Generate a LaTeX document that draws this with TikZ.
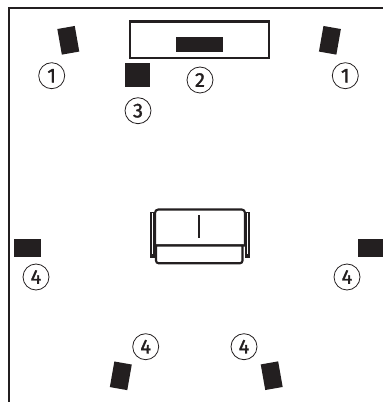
\documentclass[tikz,border=0pt]{standalone}
\usepackage{fontspec}
\setmainfont[RawFeature={embolden=1.6}]{Fira Sans}
\definecolor{cInk}{RGB}{35,31,32}
\tikzset{
	spk/.style    ={rectangle, fill=cInk, inner sep=0pt, minimum width=17.7*0.75pt, minimum height=26*0.75pt},
	spkside/.style={rectangle, fill=cInk, inner sep=0pt, minimum width=26.5*0.75pt, minimum height=18.5*0.75pt},
	num/.style    ={circle, draw=cInk, line width=0.6pt, minimum size=26*0.75pt, inner sep=0pt, text=cInk, font=\fontsize{15}{15}\selectfont},
	room/.style   ={draw=cInk, line width=1.9pt},
	sofa/.style   ={draw=cInk, line width=1.6pt},
}
\begin{document}
\begin{tikzpicture}[x=0.75pt, y=-0.75pt]
	\useasboundingbox (0,0) rectangle (383,402);
	% walls
	\coordinate (wallB) at (9,402);
	\coordinate (wallC) at (9,8);
	\coordinate (wallR) at (383,8);
	\draw[room, line join=miter] (wallB) -- (wallC) -- (wallR);
	% screen, centre speaker and subwoofer
	\draw[draw=cInk, line width=1.6pt] (130,21.5) rectangle (268.7,58);
	\node[rectangle, fill=cInk, inner sep=0pt, minimum width=47.6*0.75pt, minimum height=15*0.75pt] (centre) at (199.5,44.5) {};
	\node[rectangle, fill=cInk, inner sep=0pt, minimum width=24.7*0.75pt, minimum height=24.6*0.75pt] (sub) at (137.7,75) {};
	% angled speakers
	\foreach \nm/\px/\py/\ang in {frontL/68.3/40.3/10, frontR/329.9/40.3/-10, rearL/120.8/375.8/-10, rearR/271.7/375.7/10}
		\node[spk, rotate=\ang] (\nm) at (\px,\py) {};
	% side speakers
	\node[spkside] (sideL) at (27.6,247.8) {};
	\node[spkside, minimum width=25.3*0.75pt] (sideR) at (370.3,247.8) {};
	% sofa
	\fill[cInk] (150,211.7) rectangle (155,258);
	\fill[cInk] (245,211.7) rectangle (249.5,258);
	\fill[white] (151.9,213.5) rectangle (153,254);
	\fill[white] (246.7,213.5) rectangle (247.8,254);
	\draw[sofa, fill=white] (155,245.5) [rounded corners=2.5pt] -- (155,209.5) -- (245,209.5) [sharp corners] -- (245,245.5) -- cycle;
	\draw[sofa, fill=white] (156,245.5) [rounded corners=2pt] -- (156,263.3) -- (242.5,263.3) [sharp corners] -- (242.5,245.5) -- cycle;
	\draw[draw=cInk, line width=1.6pt] (199.3,215.3) -- (199.3,238.3);
	% number markers
	\foreach \nm/\px/\py/\txt in {a/51.7/75.7/1, b/345.3/75.7/1, c/200/80/2, d/138/110.7/3, e/36/277/4, f/347/277/4, g/145.7/346.7/4, h/244/346.7/4}
		\node[num] (\nm) at (\px,\py) {\txt};
\end{tikzpicture}
\end{document}
